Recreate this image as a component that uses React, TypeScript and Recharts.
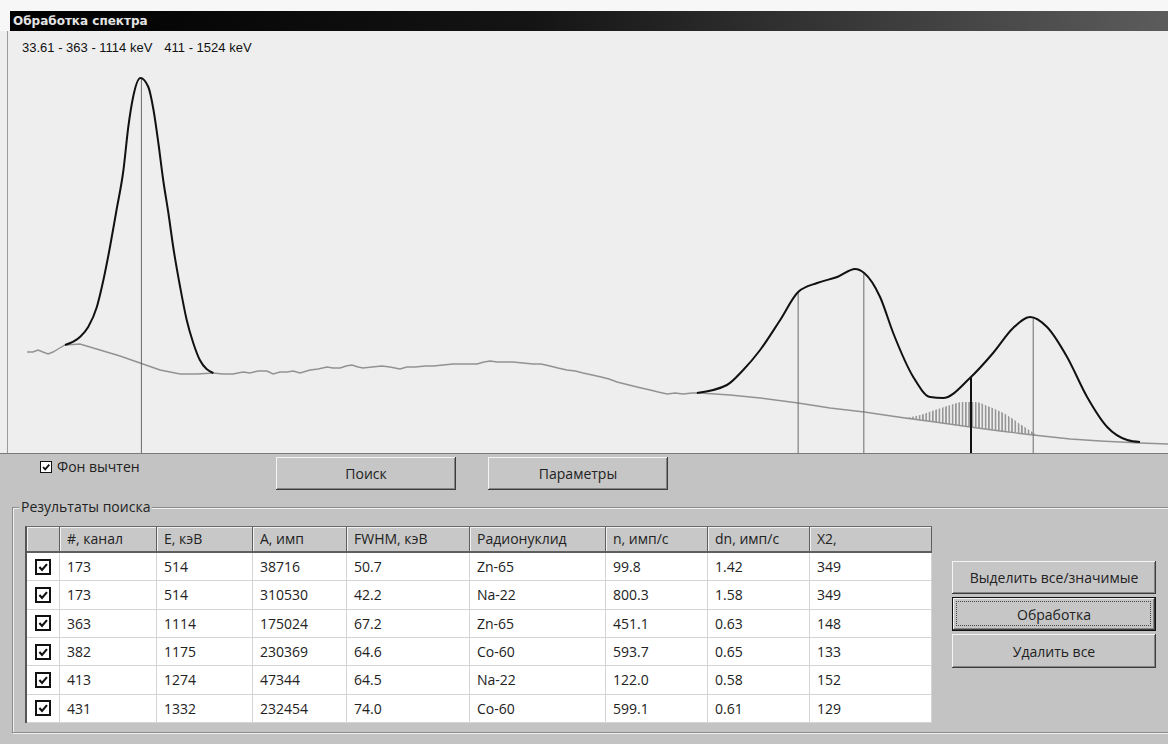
import { Area, ComposedChart, Line, ReferenceLine, XAxis, YAxis } from "recharts";

// spectrum (raw where not fitted, background under the fitted peaks): channel / counts
const SPEC_CH = [139.9, 141.6, 143.1, 144.5, 146.0, 147.4, 148.9, 150.9, 155.2, 161.0, 166.8, 172.6, 178.4, 184.2, 189.1, 193.7, 196.6, 199.5, 202.4, 204.4, 206.7, 209.3, 211.1, 213.1, 215.1, 216.9, 218.9, 221.8, 224.1, 226.7, 228.4, 230.5, 232.2, 233.9, 235.7, 237.1, 239.7, 242.6, 244.9, 247.8, 249.8, 252.2, 255.1, 257.4, 260.3, 263.2, 266.6, 270.1, 272.1, 273.9, 275.9, 277.6, 280.5, 283.4, 286.3, 288.6, 291.2, 293.5, 296.1, 298.5, 300.8, 303.4, 306.0, 308.3, 310.6, 312.9, 315.2, 317.6, 320.2, 322.5, 325.1, 327.4, 329.7, 332.3, 334.6, 343.3, 352.0, 363.0, 372.2, 382.1, 393.9, 402.6, 412.8, 421.4, 431.0, 441.7, 450.4, 461.9, 470.0];
const SPEC_CNT = [1010, 1010, 1030, 1010, 990, 1010, 1040, 1080, 1090, 1030, 970, 900, 830, 790, 790, 800, 790, 790, 810, 800, 820, 820, 790, 810, 810, 820, 800, 830, 840, 860, 850, 850, 870, 880, 860, 850, 860, 870, 860, 840, 860, 860, 870, 870, 880, 890, 890, 890, 910, 920, 910, 910, 910, 900, 890, 890, 870, 850, 830, 820, 800, 780, 760, 740, 710, 690, 670, 650, 630, 610, 590, 600, 590, 600, 600, 580, 550, 500, 450, 410, 350, 310, 260, 220, 180, 140, 120, 100, 90];

// fitted curve, first region (511 keV)
const FIT1_CH = [150.9, 155.2, 157.6, 160.1, 162.0, 163.9, 165.8, 167.8, 169.2, 170.6, 172.7, 175.0, 176.5, 177.9, 179.3, 180.8, 182.2, 184.2, 186.1, 188.0, 189.9, 193.8];
const FIT1_CNT = [1080, 1160, 1260, 1460, 1730, 2060, 2430, 2830, 3260, 3560, 3750, 3660, 3430, 3100, 2730, 2400, 2060, 1660, 1330, 1100, 930, 800];

// fitted curve, second region (1114 - 1332 keV)
const FIT2_CH = [333.7, 342.4, 347.1, 352.0, 357.8, 363.0, 368.5, 374.3, 379.5, 382.1, 386.7, 390.5, 396.3, 401.2, 404.9, 412.7, 419.4, 425.2, 430.1, 435.0, 440.8, 446.6, 452.4, 458.2, 461.9];
const FIT2_CNT = [600, 680, 830, 1030, 1330, 1610, 1700, 1760, 1840, 1800, 1560, 1200, 760, 560, 550, 750, 1000, 1250, 1360, 1260, 960, 560, 260, 130, 110];

// selected component (Na-22, 1274 keV) drawn over the background
const COMP_CH = [393.9, 398.3, 402.6, 407.0, 410.7, 414.2, 418.5, 422.9, 427.2, 431.6];
const COMP_BASE = [350, 330, 310, 290, 270, 255, 235, 215, 200, 180];
const COMP_TOP = [350, 380, 430, 480, 510, 510, 460, 390, 290, 190];

// peak markers
const PEAK_CH = [173, 363, 382, 413, 431];
const PEAK_TOP = [3750, 1610, 1800, 760, 1360];
const SELECTED_PEAK = 413;

// results table
const COLUMNS = ["", "#, канал", "E, кэВ", "A, имп", "FWHM, кэВ", "Радионуклид", "n, имп/с", "dn, имп/с", "X2,"];
const ROW_CHANNEL = [173, 173, 363, 382, 413, 431];
const ROW_ENERGY = [514, 514, 1114, 1175, 1274, 1332];
const ROW_AREA = [38716, 310530, 175024, 230369, 47344, 232454];
const ROW_FWHM = ["50.7", "42.2", "67.2", "64.6", "64.5", "74.0"];
const ROW_NUCLIDE = ["Zn-65", "Na-22", "Zn-65", "Co-60", "Na-22", "Co-60"];
const ROW_RATE = ["99.8", "800.3", "451.1", "593.7", "122.0", "599.1"];
const ROW_RATE_ERR = ["1.42", "1.58", "0.63", "0.65", "0.58", "0.61"];
const ROW_CHI2 = [349, 349, 148, 133, 152, 129];

const RANGES = ["33.61 - 363 - 1114 keV", "411 - 1524 keV"];

const PANEL = "#c3c3c3";
const PLOT_BG = "#eeeeee";
const UI_FONT = '"Open Sans", "Noto Sans", sans-serif';
const COL_W = [35, 97, 96, 94, 123, 136, 102, 102, 122];

const spectrum = SPEC_CH.map((ch, i) => ({ ch, v: SPEC_CNT[i] }));
const fit1 = FIT1_CH.map((ch, i) => ({ ch, v: FIT1_CNT[i] }));
const fit2 = FIT2_CH.map((ch, i) => ({ ch, v: FIT2_CNT[i] }));
const comp = COMP_CH.map((ch, i) => ({ ch, range: [COMP_BASE[i], COMP_TOP[i]] }));

const rows = ROW_CHANNEL.map((c, i) => [
  String(c), String(ROW_ENERGY[i]), String(ROW_AREA[i]), ROW_FWHM[i],
  ROW_NUCLIDE[i], ROW_RATE[i], ROW_RATE_ERR[i], String(ROW_CHI2[i]),
]);

function Tick({ size, border }: { size: number; border: number }) {
  return (
    <div style={{ width: size, height: size, boxSizing: "border-box", border: `${border}px solid #111`, background: "#fff", position: "relative" }}>
      <svg width={size - border * 2} height={size - border * 2} viewBox="0 0 10 10" style={{ position: "absolute", left: 0, top: 0 }}>
        <path d="M2 5 L4.2 7.4 L8.3 2.6" fill="none" stroke="#111" strokeWidth="1.8" />
      </svg>
    </div>
  );
}

function Button({ x, y, w, h, label, focused }: { x: number; y: number; w: number; h: number; label: string; focused?: boolean }) {
  return (
    <div
      style={{
        position: "absolute", left: x, top: y, width: w, height: h, boxSizing: "border-box",
        background: "#c6c6c6",
        border: focused ? "1px solid #111" : "none",
        boxShadow: "inset -1px -1px #3c3c3c, inset 1px 1px #f4f4f4, inset -2px -2px #858585",
        display: "flex", alignItems: "center", justifyContent: "center",
        fontFamily: UI_FONT, fontSize: 14, color: "#222",
      }}
    >
      {focused && (
        <div style={{ position: "absolute", left: 3, top: 3, right: 4, bottom: 4, border: "1px dotted #444" }} />
      )}
      {label}
    </div>
  );
}

export default function App() {
  const colX: number[] = [];
  COL_W.reduce((acc, w) => { colX.push(acc); return acc + w; }, 0);
  const rowH = 28.33;

  return (
    <div style={{ position: "relative", width: 1168, height: 744, background: PANEL, overflow: "hidden" }}>
      <style>{"body{margin:0}"}</style>

      {/* window header */}
      <div style={{ position: "absolute", left: 0, top: 0, width: 1168, height: 31, background: "#f7f7f7" }} />
      <div
        style={{
          position: "absolute", left: 10, top: 11, width: 1158, height: 20,
          background: "linear-gradient(90deg, #000 0%, #141414 45%, #5c5c5c 100%)",
          color: "#e4e4e4", fontFamily: '"DejaVu Sans", Verdana, sans-serif', fontWeight: "bold", fontSize: 12,
          lineHeight: "20px", paddingLeft: 3, boxSizing: "border-box",
        }}
      >
        Обработка спектра
      </div>

      {/* plot area */}
      <div style={{ position: "absolute", left: 0, top: 31, width: 1168, height: 422, background: PLOT_BG, borderBottom: "1px solid #7a7a7a" }} />
      <div style={{ position: "absolute", left: 7, top: 31, width: 1, height: 422, background: "#9a9a9a" }} />
      <div style={{ position: "absolute", left: 8, top: 31 }}>
        <ComposedChart width={1160} height={422} margin={{ top: 0, right: 0, bottom: 0, left: 0 }}>
          <defs>
            <pattern id="hatch" width="3.3" height="8" patternUnits="userSpaceOnUse">
              <rect x="0" y="0" width="1.6" height="8" fill="#949494" />
            </pattern>
          </defs>
          <XAxis dataKey="ch" type="number" domain={[134.4, 470]} allowDataOverflow hide />
          <YAxis type="number" domain={[0, 4220]} allowDataOverflow hide />
          <Area data={comp} dataKey="range" type="monotone" stroke="none" fill="url(#hatch)" fillOpacity={1} isAnimationActive={false} />
          <Line data={spectrum} dataKey="v" type="linear" stroke="#929292" strokeWidth={1.4} dot={false} isAnimationActive={false} />
          {PEAK_CH.map((ch, i) => (
            <ReferenceLine
              key={ch}
              segment={[{ x: ch, y: 0 }, { x: ch, y: PEAK_TOP[i] }]}
              stroke={ch === SELECTED_PEAK ? "#111" : "#6a6a6a"}
              strokeWidth={ch === SELECTED_PEAK ? 2 : 1}
            />
          ))}
          <Line data={fit1} dataKey="v" type="monotone" stroke="#111" strokeWidth={2} dot={false} isAnimationActive={false} />
          <Line data={fit2} dataKey="v" type="monotone" stroke="#111" strokeWidth={2} dot={false} isAnimationActive={false} />
        </ComposedChart>
      </div>
      <div style={{ position: "absolute", left: 22, top: 40, fontFamily: '"Liberation Sans Narrow", "Liberation Sans", sans-serif', fontSize: 13, color: "#111", whiteSpace: "pre" }}>
        {RANGES[0]}
        <span style={{ marginLeft: 12 }}>{RANGES[1]}</span>
      </div>

      {/* controls */}
      <div style={{ position: "absolute", left: 40, top: 461 }}>
        <Tick size={12} border={1} />
      </div>
      <div style={{ position: "absolute", left: 57, top: 457, fontFamily: UI_FONT, fontSize: 14, color: "#222" }}>Фон вычтен</div>
      <Button x={276} y={457} w={180} h={33} label="Поиск" />
      <Button x={488} y={457} w={180} h={33} label="Параметры" />

      {/* group box */}
      <div style={{ position: "absolute", left: 12, top: 507, width: 1170, height: 224, border: "1px solid #8c8c8c", boxShadow: "1px 1px 0 #f0f0f0, inset 1px 1px 0 #f0f0f0" }} />
      <div style={{ position: "absolute", left: 19, top: 497, padding: "0 2px", background: PANEL, fontFamily: UI_FONT, fontSize: 14, color: "#222" }}>Результаты поиска</div>

      {/* table */}
      <div style={{ position: "absolute", left: 25, top: 526, width: 907, height: 197, borderLeft: "2px solid #555", borderTop: "1px solid #6a6a6a", boxSizing: "border-box" }} />
      {COLUMNS.map((c, j) => (
        <div
          key={"h" + j}
          style={{
            position: "absolute", left: 27 + colX[j] - (j === 0 ? 0 : 2), top: 527, width: COL_W[j] - (j === 0 ? 2 : 0), height: 26,
            boxSizing: "border-box", background: "#c8c8c8",
            borderRight: "1px solid #5e5e5e", borderBottom: "2px solid #5e5e5e",
            boxShadow: "inset 1px 1px #f2f2f2",
            fontFamily: UI_FONT, fontSize: 14, color: "#222", lineHeight: "24px", paddingLeft: 7, whiteSpace: "nowrap",
          }}
        >
          {c}
        </div>
      ))}
      {rows.map((r, i) => (
        <div key={"r" + i}>
          <div
            style={{
              position: "absolute", left: 27, top: 553 + i * rowH, width: COL_W[0] - 2, height: rowH,
              boxSizing: "border-box", background: "#fff", borderRight: "1px solid #d4d4d4", borderBottom: "1px solid #d4d4d4",
              display: "flex", alignItems: "center", paddingLeft: 8,
            }}
          >
            <Tick size={16} border={2} />
          </div>
          {r.map((v, j) => (
            <div
              key={j}
              style={{
                position: "absolute", left: 25 + colX[j + 1], top: 553 + i * rowH, width: COL_W[j + 1], height: rowH,
                boxSizing: "border-box", background: "#fff", borderRight: "1px solid #d4d4d4", borderBottom: "1px solid #d4d4d4",
                fontFamily: UI_FONT, fontSize: 14, color: "#222", lineHeight: `${rowH}px`, paddingLeft: 7,
              }}
            >
              {v}
            </div>
          ))}
        </div>
      ))}

      {/* side buttons */}
      <Button x={952} y={561} w={204} h={33} label="Выделить все/значимые" />
      <Button x={952} y={597} w={204} h={34} label="Обработка" focused />
      <Button x={952} y={634} w={204} h={34} label="Удалить все" />
    </div>
  );
}
